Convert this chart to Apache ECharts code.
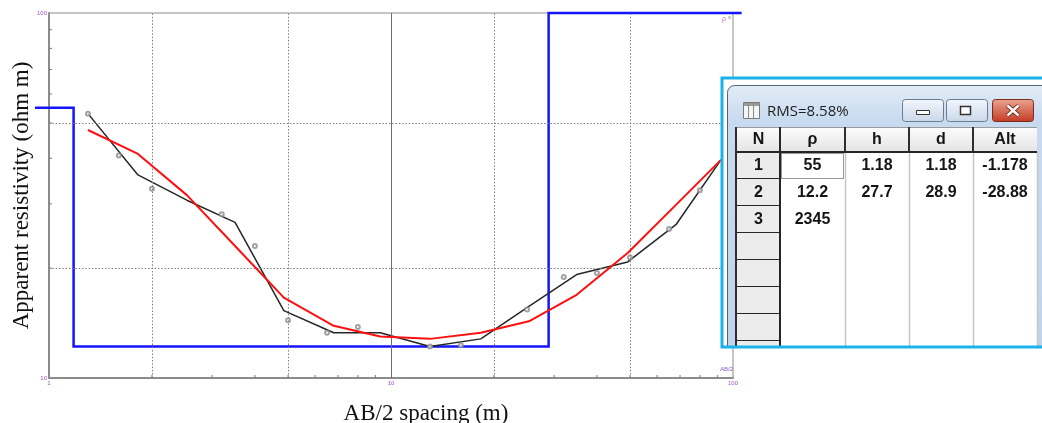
<!DOCTYPE html>
<html>
<head>
<meta charset="utf-8">
<title>Apparent resistivity sounding curve</title>
<script src="https://cdn.jsdelivr.net/npm/echarts@6/dist/echarts.min.js"></script>
<style>
  html, body { margin: 0; padding: 0; background: #fff; }
  #chart { width: 1042px; height: 423px; }
</style>
</head>
<body>
<div id="chart"></div>
<script>
// Field measurements (AB/2 in m, apparent resistivity in ohm m)
const abSpacing = [1.3, 1.6, 2.0, 3.2, 4.0, 5.0, 6.5, 8.0, 13, 16, 25, 32, 40, 50, 65, 80];
const rhoObserved = [53.0, 40.7, 33.0, 28.1, 23.0, 14.4, 13.3, 13.8, 12.2, 12.3, 15.4, 18.9, 19.4, 21.4, 25.6, 32.7];

// Sampling used by the smoothed field curve and the computed model curve
const abCurve = [1.3, 1.82, 2.53, 3.5, 4.86, 6.8, 9.3, 13.0, 18.3, 25.3, 34.9, 49.2, 68.1, 92.2];
const rhoSmoothed = [53.0, 36.0, 30.7, 26.7, 15.3, 13.3, 13.3, 12.2, 12.8, 15.7, 19.2, 20.8, 26.3, 39.6];
const rhoModel = [47.8, 41.1, 31.7, 23.0, 16.6, 13.9, 13.0, 12.8, 13.3, 14.3, 16.9, 22.0, 29.8, 39.6];

// Layered model (inversion result)
const tableHead = ['N', 'ρ', 'h', 'd', 'Alt'];
const layerRho = [55, 12.2, 2345];
const layerH = [1.18, 27.7];
const layerD = [1.18, 28.9];
const layerAlt = [-1.178, -28.88];
const rmsText = 'RMS=8.58%';
const modelSpan = [0.91, 106];

// Axes
const xRange = [1, 100];
const yRange = [10, 100];
const xTickMinor = [2, 3, 4, 5, 6, 7, 8, 9, 20, 30, 40, 50, 60, 70, 80, 90];
const yTickMinor = [20, 30, 40, 50, 60, 70, 80, 90];
const xGridDotted = [2, 5, 20, 50];
const yGridDotted = [20, 50];
const xGridSolid = [10];

const SERIF = '"Liberation Serif", "Times New Roman", serif';
const SANS = '"Liberation Sans", Arial, sans-serif';

// Step line of the layered model; resistivities above the axis top sit on the frame
function modelSteps() {
  const pts = [];
  let x0 = modelSpan[0];
  for (let i = 0; i < layerRho.length; i++) {
    const r = Math.min(layerRho[i], yRange[1]);
    const x1 = i < layerD.length ? layerD[i] : modelSpan[1];
    pts.push([x0, r], [x1, r]);
    x0 = x1;
  }
  return pts;
}
const modelPoints = modelSteps();

function zip(xs, ys) { return xs.map((x, i) => [x, ys[i]]); }

// Inset: layer table window
function buildInset() {
  const Z = 100;
  const els = [];
  const add = (o) => { o.z = Z; o.silent = true; els.push(o); };
  const grad = (a, b) => ({ type: 'linear', x: 0, y: 0, x2: 0, y2: 1,
    colorStops: [{ offset: 0, color: a }, { offset: 1, color: b }] });
  const txt = (text, x, y, font, fill, align) => add({
    type: 'text',
    style: { text: text, x: x, y: y, font: font, fill: fill,
      align: align || 'center', verticalAlign: 'middle',
      textAlign: align || 'center', textVerticalAlign: 'middle' }
  });
  const line = (x1, y1, x2, y2, stroke, w, dash) => add({
    type: 'line', shape: { x1: x1, y1: y1, x2: x2, y2: y2 },
    style: { stroke: stroke, lineWidth: w, lineDash: dash || null }
  });

  // backdrop and window frame
  add({ type: 'rect', shape: { x: 722, y: 78, width: 330, height: 269 }, style: { fill: '#ffffff' } });
  add({ type: 'rect', shape: { x: 727.5, y: 85.5, width: 330, height: 261, r: [7, 0, 0, 0] },
    style: { fill: { type: 'linear', x: 0, y: 0, x2: 0, y2: 1, colorStops: [
      { offset: 0, color: '#e2ecf8' }, { offset: 0.14, color: '#c7daef' }, { offset: 1, color: '#bfd4ec' }] },
      stroke: '#56616f', lineWidth: 1 } });

  // title bar: icon, caption, buttons
  add({ type: 'rect', shape: { x: 743.5, y: 102.5, width: 16, height: 16 }, style: { fill: '#f6f6f6', stroke: '#7a7a7a', lineWidth: 1 } });
  add({ type: 'rect', shape: { x: 744, y: 103, width: 15, height: 3 }, style: { fill: '#9c9c9c' } });
  line(748.5, 103, 748.5, 118, '#8a8a8a', 1);
  line(753.5, 103, 753.5, 118, '#8a8a8a', 1);
  txt(rmsText, 767, 112, '15px "Open Sans", "Noto Sans", sans-serif', '#1e1e1e', 'left');

  add({ type: 'rect', shape: { x: 902.5, y: 99.5, width: 41, height: 22, r: 3 },
    style: { fill: grad('#f3f7fc', '#c9d8ea'), stroke: '#6b7b90', lineWidth: 1 } });
  add({ type: 'rect', shape: { x: 916.5, y: 110.5, width: 13, height: 4 }, style: { fill: '#ffffff', stroke: '#333', lineWidth: 1 } });
  add({ type: 'rect', shape: { x: 946.5, y: 99.5, width: 41, height: 22, r: 3 },
    style: { fill: grad('#f3f7fc', '#c9d8ea'), stroke: '#6b7b90', lineWidth: 1 } });
  add({ type: 'rect', shape: { x: 960.5, y: 106.5, width: 10, height: 8 }, style: { fill: '#ffffff', stroke: '#333', lineWidth: 1.5 } });
  add({ type: 'rect', shape: { x: 992.5, y: 99.5, width: 41, height: 22, r: 3 },
    style: { fill: grad('#eaa592', '#c43a23'), stroke: '#7d2a1c', lineWidth: 1 } });
  line(1007.5, 105.5, 1018.5, 115.5, '#5a1a10', 4);
  line(1018.5, 105.5, 1007.5, 115.5, '#5a1a10', 4);
  line(1007.5, 105.5, 1018.5, 115.5, '#ffffff', 2.4);
  line(1018.5, 105.5, 1007.5, 115.5, '#ffffff', 2.4);

  // table grid
  const colX = [737, 780, 845, 909, 973, 1037];
  const headTop = 127, headBot = 152, rowH = 27, gridBot = 346;
  add({ type: 'rect', shape: { x: colX[0], y: headTop, width: colX[5] - colX[0], height: gridBot - headTop }, style: { fill: '#ffffff' } });
  for (let c = 0; c < 5; c++) {
    add({ type: 'rect', shape: { x: colX[c], y: headTop, width: colX[c + 1] - colX[c], height: headBot - headTop },
      style: { fill: grad('#fcfcfc', '#e4e4e4') } });
    txt(tableHead[c], (colX[c] + colX[c + 1]) / 2, 140, 'bold 16px ' + SANS, '#151515');
  }
  line(colX[0], headTop + 0.5, colX[5], headTop + 0.5, '#9a9a9a', 1);
  for (let c = 1; c < 5; c++) line(colX[c], headTop, colX[c], headBot, '#303030', 2);

  const rows = layerRho.map((rho, i) => [String(i + 1), String(rho),
    layerH[i] !== undefined ? String(layerH[i]) : '',
    layerD[i] !== undefined ? String(layerD[i]) : '',
    layerAlt[i] !== undefined ? String(layerAlt[i]) : '']);
  for (let r = 0; headBot + r * rowH < gridBot; r++) {
    const y0 = headBot + r * rowH;
    const h = Math.min(rowH, gridBot - y0);
    add({ type: 'rect', shape: { x: colX[0], y: y0, width: colX[1] - colX[0], height: h }, style: { fill: '#ececec' } });
    if (y0 + rowH <= gridBot) line(colX[0], y0 + rowH, colX[1], y0 + rowH, '#262626', 2);
    if (rows[r]) {
      for (let c = 0; c < 5; c++) {
        if (rows[r][c]) txt(rows[r][c], (colX[c] + colX[c + 1]) / 2, y0 + 13.5, 'bold 16px ' + SANS, '#151515');
      }
    }
  }
  for (let c = 2; c < 6; c++) line(colX[c] + 0.5, headBot, colX[c] + 0.5, gridBot, '#c6c6c6', 1.5);
  line(colX[1], headTop, colX[1], gridBot, '#262626', 2);
  line(colX[0] - 1, headTop, colX[0] - 1, gridBot, '#2e2e2e', 2);
  line(colX[0], headBot, colX[5], headBot, '#262626', 2);
  add({ type: 'rect', shape: { x: 781.5, y: 153.5, width: 62, height: 25 },
    style: { fill: null, stroke: '#333', lineWidth: 1, lineDash: [1, 1] } });

  // cyan crop border
  add({ type: 'rect', shape: { x: 722, y: 78, width: 340, height: 269 },
    style: { fill: null, stroke: '#19b3ea', lineWidth: 3 } });
  return els;
}

const chart = echarts.init(document.getElementById('chart'), null, { renderer: 'canvas' });

const tinyLabel = { fontSize: 6, color: '#a255cc', fontFamily: SANS };
const lg = Math.log10;

const option = {
  animation: false,
  backgroundColor: '#ffffff',
  grid: { left: 49, right: 309, top: 13, bottom: 45, show: true, borderColor: '#8c8c8c', borderWidth: 1,
    containLabel: false, outerBoundsMode: 'none' },
  xAxis: {
    type: 'log', logBase: 10, min: xRange[0], max: xRange[1],
    name: 'AB/2 spacing (m)', nameLocation: 'middle', nameGap: 24,
    nameTextStyle: { fontFamily: SERIF, fontSize: 23, color: '#111', padding: [0, 0, 0, 70] },
    axisLine: { show: true, lineStyle: { color: '#8c8c8c', width: 2 } },
    axisTick: { show: false },
    splitLine: { show: false },
    minorTick: { show: false },
    axisLabel: Object.assign({ margin: 2 }, tinyLabel)
  },
  yAxis: {
    type: 'log', logBase: 10, min: yRange[0], max: yRange[1],
    name: 'Apparent resistivity (ohm m)', nameLocation: 'middle', nameGap: 16, nameRotate: 90,
    nameMoveOverlap: false,
    nameTextStyle: { fontFamily: SERIF, fontSize: 23, color: '#111' },
    axisLine: { show: true, lineStyle: { color: '#8c8c8c', width: 2 } },
    axisTick: { show: false },
    splitLine: { show: false },
    axisLabel: Object.assign({ margin: 2 }, tinyLabel)
  },
  graphic: [
    { type: 'text', z: 50, silent: true, style: { text: 'ρ', x: 722, y: 19, font: '7px ' + SANS, fill: '#d070d0', verticalAlign: 'middle', textVerticalAlign: 'middle' } },
    { type: 'text', z: 50, silent: true, style: { text: 'a', x: 728, y: 18, font: '5px ' + SANS, fill: '#70b070', verticalAlign: 'middle', textVerticalAlign: 'middle' } },
    { type: 'text', z: 50, silent: true, style: { text: 'AB/2', x: 720, y: 369, font: '6px ' + SANS, fill: '#7a5ac0', verticalAlign: 'middle', textVerticalAlign: 'middle' } }
  ].concat(buildInset()),
  series: [
    {
      // minor ticks on the bottom axis, plus the reference grid
      type: 'custom', coordinateSystem: 'cartesian2d', silent: true, z: 1,
      data: xTickMinor.map(v => [v, yRange[0]]),
      renderItem: function (params, api) {
        const p = api.coord([api.value(0), api.value(1)]);
        return { type: 'line', shape: { x1: p[0], y1: p[1], x2: p[0], y2: p[1] - 3 }, style: { stroke: '#7a7a7a', lineWidth: 1 } };
      },
      markLine: {
        silent: true, symbol: 'none', label: { show: false },
        lineStyle: { color: '#7e7e7e', width: 1, type: [1.5, 1.8] },
        data: xGridDotted.map(v => ({ xAxis: v }))
          .concat(yGridDotted.map(v => ({ yAxis: v })))
          .concat(xGridSolid.map(v => ({ xAxis: v, lineStyle: { type: 'solid', color: '#6e6e6e', width: 1 } })))
      }
    },
    {
      // minor ticks on the left axis
      type: 'custom', coordinateSystem: 'cartesian2d', silent: true, z: 1,
      data: yTickMinor.map(v => [xRange[0], v]),
      renderItem: function (params, api) {
        const p = api.coord([api.value(0), api.value(1)]);
        return { type: 'line', shape: { x1: p[0], y1: p[1], x2: p[0] + 3, y2: p[1] }, style: { stroke: '#7a7a7a', lineWidth: 1 } };
      }
    },
    {
      // layered model as a step line; its ends run a little past the frame,
      // so the x position follows the log axis beyond its ends as well
      name: 'Layered model', type: 'custom', coordinateSystem: 'cartesian2d', silent: true, z: 2,
      clip: false,
      data: modelPoints,
      renderItem: function (params, api) {
        if (params.dataIndex !== 0) return null;
        const pts = modelPoints.map(function (d) {
          const a = api.coord([xRange[0], d[1]]);
          const b = api.coord([xRange[1], d[1]]);
          const t = (lg(d[0]) - lg(xRange[0])) / (lg(xRange[1]) - lg(xRange[0]));
          return [a[0] + (b[0] - a[0]) * t, a[1]];
        });
        return { type: 'polyline', shape: { points: pts },
          style: { stroke: '#1414ff', lineWidth: 2.5, fill: null } };
      }
    },
    {
      name: 'Smoothed field curve', type: 'line', data: zip(abCurve, rhoSmoothed),
      symbol: 'none', silent: true, z: 3,
      lineStyle: { color: '#262626', width: 1.5 }
    },
    {
      name: 'Observed', type: 'scatter', data: zip(abSpacing, rhoObserved),
      symbol: 'emptyCircle', symbolSize: 4, silent: true, z: 4,
      itemStyle: { color: '#8c8c8c', borderColor: '#8c8c8c', borderWidth: 0.9 }
    },
    {
      name: 'Model response', type: 'line', data: zip(abCurve, rhoModel),
      symbol: 'none', silent: true, z: 5,
      lineStyle: { color: '#ff1010', width: 2 }
    }
  ]
};

chart.setOption(option);
</script>
</body>
</html>
